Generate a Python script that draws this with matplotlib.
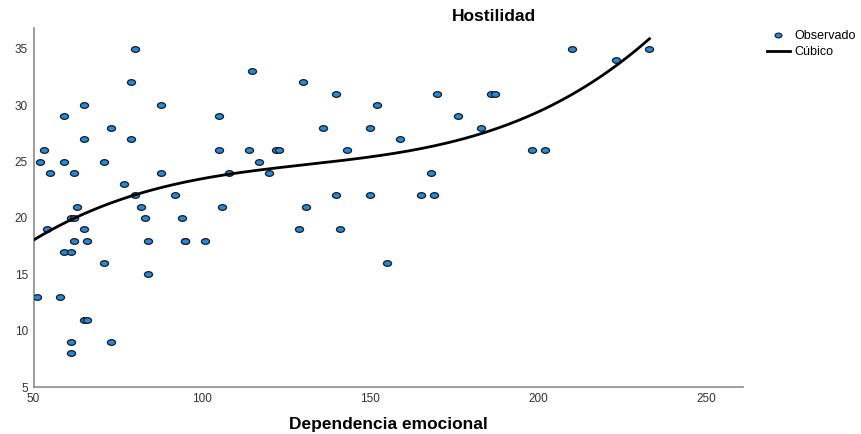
import numpy as np
import matplotlib
matplotlib.use('Agg')
from matplotlib import pyplot as plt
from matplotlib.path import Path
from matplotlib.lines import Line2D

# Dependencia emocional (x) vs Hostilidad (y)
dependencia = [51, 52, 53, 54, 55, 58, 59, 59, 59, 61, 61, 61, 61, 62, 62, 62,
               63, 65, 65, 65, 65, 66, 66, 71, 71, 73, 73, 77, 79, 79, 80, 80,
               82, 83, 84, 84, 88, 88, 92, 94, 95, 95, 101, 105, 105, 106, 108,
               114, 115, 117, 120, 122, 123, 129, 130, 131, 136, 140, 140, 141,
               143, 150, 150, 152, 155, 159, 165, 168, 169, 170, 176, 183, 186,
               187, 198, 202, 210, 223, 233]
hostilidad = [13, 25, 26, 19, 24, 13, 29, 25, 17, 17, 20, 9, 8, 24, 20, 18,
              21, 30, 27, 19, 11, 11, 18, 25, 16, 28, 9, 23, 32, 27, 35, 22,
              21, 20, 18, 15, 30, 24, 22, 20, 18, 18, 18, 29, 26, 21, 24,
              26, 33, 25, 24, 26, 26, 19, 32, 21, 28, 31, 22, 19,
              26, 28, 22, 30, 16, 27, 22, 24, 22, 31, 29, 28, 31,
              31, 26, 26, 35, 34, 35]

x = np.array(dependencia, dtype=float)
y = np.array(hostilidad, dtype=float)

# ajuste cubico
coef = np.polyfit(x, y, 3)
xs = np.linspace(50, x.max(), 300)
ys = np.polyval(coef, xs)

plt.rcParams['font.family'] = ['Liberation Sans', 'DejaVu Sans']

fig = plt.figure(figsize=(8.62, 4.34), dpi=100)
ax = fig.add_axes([0.0389, 0.1076, 0.8227, 0.8272])

# marcador eliptico (tipo SPSS)
circ = Path.unit_circle()
ell = Path(circ.vertices * np.array([1.0, 0.7]), circ.codes)

ax.scatter(x, y, marker=ell, s=34, facecolor='#1f8ae0', edgecolor='#1a1a1a',
           linewidth=0.9, zorder=3)
ax.plot(xs, ys, color='black', linewidth=2, zorder=4, clip_on=True)

ax.set_xlim(50, 260.7)
ax.set_ylim(5, 36.8)
ax.set_xticks([50, 100, 150, 200, 250])
ax.set_yticks([5, 10, 15, 20, 25, 30, 35])
ax.tick_params(length=0, labelsize=8.5, colors='#333333', pad=4)
for s in ['top', 'right']:
    ax.spines[s].set_visible(False)
for s in ['left', 'bottom']:
    ax.spines[s].set_color('#8c8c8c')
    ax.spines[s].set_linewidth(1.2)

fig.text(0.451, 0.022, 'Dependencia emocional', ha='center', va='center',
         fontsize=12.5, fontweight='bold')
fig.text(0.573, 0.961, 'Hostilidad', ha='center', va='center',
         fontsize=12.5, fontweight='bold')

handles = [Line2D([], [], linestyle='none', marker=ell, markersize=5,
                  markerfacecolor='#1f8ae0', markeredgecolor='#1a1a1a',
                  markeredgewidth=0.8),
           Line2D([], [], color='black', linewidth=2)]
fig.legend(handles, ['Observado', 'Cúbico'], loc='upper left',
           bbox_to_anchor=(0.882, 0.945), frameon=False, fontsize=9,
           handlelength=1.9, handletextpad=0.3, labelspacing=0.35,
           borderpad=0)

fig.savefig('out.png', dpi=100)
